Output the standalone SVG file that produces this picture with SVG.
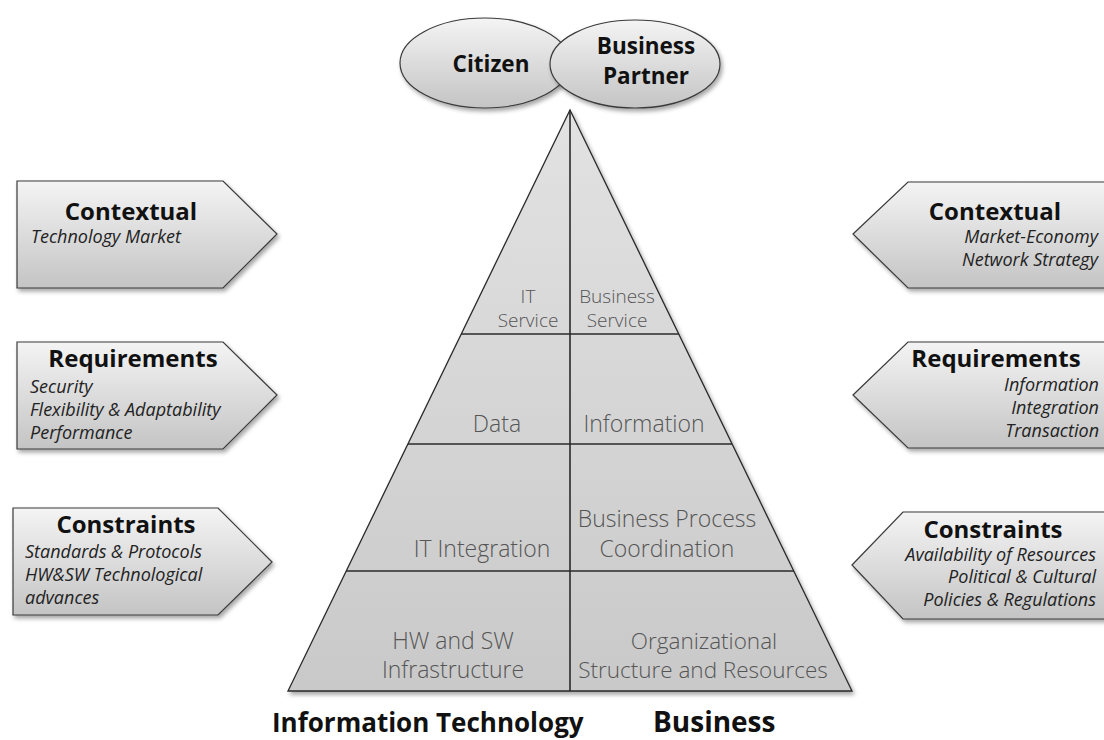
<svg xmlns="http://www.w3.org/2000/svg" width="1104" height="740" viewBox="0 0 1104 740">
  <defs>
    <linearGradient id="gBox" x1="0" y1="0" x2="0" y2="1">
      <stop offset="0" stop-color="#f4f4f4"/>
      <stop offset="1" stop-color="#c4c4c4"/>
    </linearGradient>
    <linearGradient id="gPyr" x1="0" y1="0" x2="0" y2="1">
      <stop offset="0" stop-color="#e2e2e2"/>
      <stop offset="1" stop-color="#c9c9c9"/>
    </linearGradient>
    <filter id="shadow" x="-10%" y="-10%" width="120%" height="130%">
      <feDropShadow dx="2" dy="3" stdDeviation="2" flood-color="#000" flood-opacity="0.35"/>
    </filter>
  </defs>
  <style>
    .box { fill: url(#gBox); stroke: #3a3a3a; stroke-width: 1.2; filter: url(#shadow); }
    .pyr { fill: url(#gPyr); stroke: #2a2a2a; stroke-width: 1.3; }
    .div { stroke: #2a2a2a; stroke-width: 1.6; fill: none; }
    .head { font-family: "Open Sans", "Liberation Sans", sans-serif; font-weight: 700; font-size: 24px; fill: #111; }
    .sub { font-family: "Open Sans", "Liberation Sans", sans-serif; font-style: italic; font-size: 18px; fill: #222; }
    .lay { font-family: "Open Sans", "Liberation Sans", sans-serif; font-weight: 300; fill: #555; text-anchor: middle; }
    .ell { font-family: "Open Sans", "Liberation Sans", sans-serif; font-weight: 700; font-size: 22.5px; fill: #111; text-anchor: middle; }
    .foot { font-family: "Open Sans", "Liberation Sans", sans-serif; font-weight: 700; fill: #111; }
  </style>

  <rect width="1104" height="740" fill="#ffffff"/>

  <g id="pyramid">
    <polygon class="pyr" points="570,110 852,691 288,691" filter="url(#shadow)"/>
    <g id="connectors">
      <line class="div" x1="570" y1="110" x2="570" y2="691"/>
      <line class="div" x1="461" y1="334" x2="679" y2="334"/>
      <line class="div" x1="408" y1="444" x2="732" y2="444"/>
      <line class="div" x1="346" y1="571" x2="794" y2="571"/>
    </g>
  </g>

  <g id="layer-it-service">
    <text class="lay" font-size="19"><tspan x="528" y="303">IT</tspan><tspan x="528" y="327">Service</tspan></text>
  </g>
  <g id="layer-business-service">
    <text class="lay" font-size="19"><tspan x="617" y="303">Business</tspan><tspan x="617" y="327">Service</tspan></text>
  </g>
  <g id="layer-data">
    <text class="lay" font-size="23" x="497" y="432">Data</text>
  </g>
  <g id="layer-information">
    <text class="lay" font-size="23" x="644" y="432">Information</text>
  </g>
  <g id="layer-it-integration">
    <text class="lay" font-size="23" x="482" y="557">IT Integration</text>
  </g>
  <g id="layer-bpc">
    <text class="lay" font-size="23"><tspan x="667" y="527">Business Process</tspan><tspan x="667" y="557">Coordination</tspan></text>
  </g>
  <g id="layer-infra">
    <text class="lay" font-size="23"><tspan x="453" y="649">HW and SW</tspan><tspan x="453" y="678">Infrastructure</tspan></text>
  </g>
  <g id="layer-org">
    <text class="lay" font-size="22.5"><tspan x="704" y="649">Organizational</tspan><tspan x="703" y="678">Structure and Resources</tspan></text>
  </g>

  <g id="citizen">
    <ellipse class="box" cx="485" cy="63" rx="85" ry="45"/>
    <text class="ell" font-size="23" x="491" y="72">Citizen</text>
  </g>
  <g id="business-partner">
    <ellipse class="box" cx="635" cy="64" rx="85" ry="44"/>
    <text class="ell"><tspan x="646" y="54">Business</tspan><tspan x="646" y="84">Partner</tspan></text>
  </g>

  <g id="left-contextual">
    <polygon class="box" points="17,181 223,181 277,234 223,288 17,288"/>
    <text class="head" x="131" y="220" text-anchor="middle">Contextual</text>
    <text class="sub" x="31" y="243">Technology Market</text>
  </g>
  <g id="left-requirements">
    <polygon class="box" points="17,342 223,342 277,395 223,449 17,449"/>
    <text class="head" x="133" y="367" text-anchor="middle">Requirements</text>
    <text class="sub"><tspan x="30" y="393">Security</tspan><tspan x="30" y="416">Flexibility &amp; Adaptability</tspan><tspan x="30" y="439">Performance</tspan></text>
  </g>
  <g id="left-constraints">
    <polygon class="box" points="13,508 218,508 272,562 218,615 13,615"/>
    <text class="head" x="126" y="533" text-anchor="middle">Constraints</text>
    <text class="sub"><tspan x="25" y="558">Standards &amp; Protocols</tspan><tspan x="25" y="581">HW&amp;SW Technological</tspan><tspan x="25" y="604">advances</tspan></text>
  </g>

  <g id="right-contextual">
    <polygon class="box" points="853,234 908,182 1108,182 1108,288 908,288"/>
    <text class="head" x="995" y="220" text-anchor="middle">Contextual</text>
    <text class="sub" text-anchor="end"><tspan x="1098" y="243">Market-Economy</tspan><tspan x="1098" y="266">Network Strategy</tspan></text>
  </g>
  <g id="right-requirements">
    <polygon class="box" points="853,395 908,342 1108,342 1108,448 908,448"/>
    <text class="head" x="996" y="367" text-anchor="middle">Requirements</text>
    <text class="sub" text-anchor="end"><tspan x="1099" y="391">Information</tspan><tspan x="1099" y="414">Integration</tspan><tspan x="1099" y="437">Transaction</tspan></text>
  </g>
  <g id="right-constraints">
    <polygon class="box" points="852,565 903,512 1108,512 1108,619 903,619"/>
    <text class="head" x="993" y="538" text-anchor="middle">Constraints</text>
    <text class="sub" text-anchor="end"><tspan x="1096" y="561">Availability of Resources</tspan><tspan x="1096" y="583">Political &amp; Cultural</tspan><tspan x="1096" y="606">Policies &amp; Regulations</tspan></text>
  </g>

  <g id="label-it">
    <text class="foot" font-size="26" x="272" y="732">Information Technology</text>
  </g>
  <g id="label-business">
    <text class="foot" font-size="28" x="653" y="732">Business</text>
  </g>
</svg>
